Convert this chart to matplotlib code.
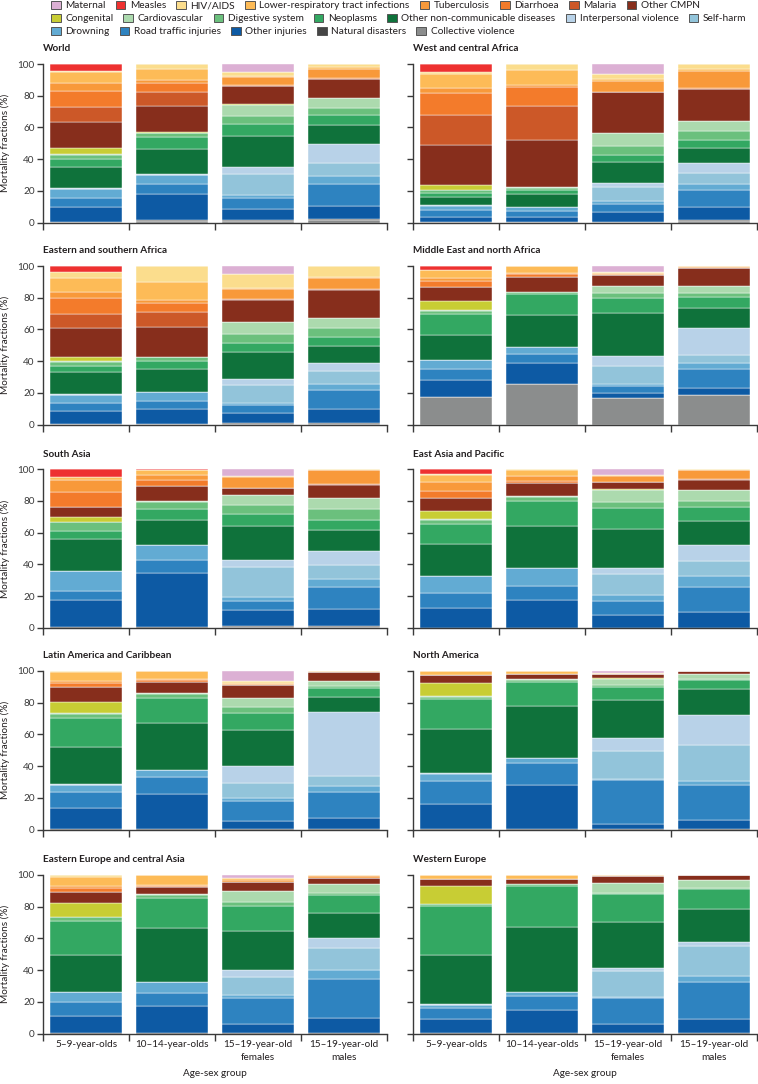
import matplotlib
matplotlib.use('Agg')
import matplotlib.pyplot as plt
import numpy as np
from matplotlib.patches import Patch

plt.rcParams['font.family'] = ['Lato', 'DejaVu Sans']
plt.rcParams['text.color'] = '#231f20'
plt.rcParams['axes.labelcolor'] = '#231f20'
plt.rcParams['xtick.color'] = '#3a3a3a'
plt.rcParams['ytick.color'] = '#3a3a3a'
plt.rcParams['xtick.labelcolor'] = '#231f20'
plt.rcParams['ytick.labelcolor'] = '#3a3a3a'

# Causes in legend order (top of stack first)
causes = ['Maternal', 'Measles', 'HIV/AIDS', 'Lower-respiratory tract infections',
          'Tuberculosis', 'Diarrhoea', 'Malaria', 'Other CMPN',
          'Congenital', 'Cardiovascular', 'Digestive system', 'Neoplasms',
          'Other non-communicable diseases', 'Interpersonal violence', 'Self-harm',
          'Drowning', 'Road traffic injuries', 'Other injuries', 'Natural disasters',
          'Collective violence']
colors = ['#dcb0d4', '#ee3130', '#fbdd8d', '#fdbb57', '#f8993a', '#f37b2b', '#cc5828',
          '#872e1c', '#c8cd34', '#acdaae', '#6bc07d', '#33a862', '#0f723b', '#b8d2e8',
          '#92c4da', '#62abd3', '#2e83c0', '#0d5aa4', '#454545', '#8b8d8d']

groups = ['5–9-year-olds', '10–14-year-olds', '15–19-year-old\nfemales', '15–19-year-old\nmales']

regions = ['World', 'West and central Africa', 'Eastern and southern Africa',
           'Middle East and north Africa', 'South Asia', 'East Asia and Pacific',
           'Latin America and Caribbean', 'North America',
           'Eastern Europe and central Asia', 'Western Europe']

# Each region: 4 age-sex groups x 20 causes (legend order), mortality fractions (%)
world = [
    [0, 4.2, 1.1, 6.9, 4.6, 10.2, 9.4, 16.9, 3.5, 0.6, 2.4, 5.5, 13.2, 0.3, 0.2, 6.0, 5.3, 9.5, 0.2, 0.2],
    [0, 0, 3.2, 6.9, 1.7, 5.7, 9.0, 16.9, 0.3, 0.3, 2.6, 7.4, 15.8, 0.3, 0.3, 5.9, 6.3, 16.4, 0.5, 1.0],
    [4.8, 0, 2.6, 0.8, 5.1, 0.3, 0.3, 11.6, 0.2, 7.3, 5.1, 7.6, 19.3, 4.7, 13.2, 2.1, 6.8, 7.1, 0.4, 0.9],
    [0, 0, 2.1, 1.0, 6.0, 0.2, 0.2, 11.8, 0.2, 6.1, 4.6, 6.1, 12.2, 12.4, 8.0, 5.1, 13.5, 8.8, 0.5, 1.4],
]
west_central_africa = [
    [0, 5.3, 1.0, 9.1, 3.1, 13.7, 19.2, 25.4, 2.8, 0.3, 1.8, 2.3, 5.3, 0.1, 0.1, 2.9, 4.4, 3.0, 0.2, 0.2],
    [0, 0, 3.8, 9.5, 1.4, 11.6, 22.1, 29.5, 0.2, 0.2, 1.3, 2.7, 8.0, 0.1, 0.1, 2.7, 3.6, 3.2, 0.2, 0.2],
    [6.5, 0, 3.0, 1.0, 7.0, 0.2, 0.3, 25.5, 0.2, 8.2, 6.1, 4.2, 13.3, 2.5, 9.0, 1.5, 5.1, 6.5, 0.2, 0.2],
    [0, 0, 3.2, 1.0, 11.2, 0.2, 0.2, 20.4, 0.1, 6.3, 5.5, 4.8, 9.9, 6.1, 7.2, 3.8, 10.5, 8.4, 0.3, 1.2],
]
eastern_southern_africa = [
    [0, 4.0, 3.7, 8.6, 4.0, 10.0, 9.2, 17.8, 3.0, 0.3, 2.8, 3.5, 14.3, 0.1, 0.1, 5.2, 5.0, 8.4, 0.1, 0.1],
    [0, 0, 10.3, 11.0, 2.1, 5.9, 9.4, 18.8, 0.2, 0.2, 2.3, 5.3, 14.0, 0.1, 0.1, 6.1, 4.6, 9.8, 0.1, 0.1],
    [5.0, 0, 9.0, 0.5, 6.4, 0.2, 0.2, 14.1, 0.1, 7.3, 6.0, 5.5, 17.3, 3.6, 11.1, 1.5, 4.8, 6.7, 0.3, 0.5],
    [0, 0, 6.9, 0.5, 7.2, 0.2, 0.2, 17.8, 0.1, 6.3, 5.7, 5.4, 10.9, 5.4, 7.8, 4.2, 11.9, 8.8, 0.3, 0.5],
]
middle_east_north_africa = [
    [0, 2.5, 0.3, 4.9, 1.5, 3.8, 0.1, 8.8, 6.2, 0.5, 1.6, 13.4, 15.9, 0.1, 0.1, 5.2, 7.4, 10.6, 0.1, 17.3],
    [0, 0, 0.3, 4.3, 0.7, 1.4, 0.1, 9.4, 0.2, 0.3, 1.2, 13.2, 20.2, 0.1, 0.1, 4.2, 5.5, 13.4, 0.1, 25.8],
    [4.0, 0, 0.2, 0.6, 1.0, 0.1, 0.1, 6.5, 0.1, 4.6, 3.2, 9.6, 26.8, 6.5, 11.5, 1.0, 5.0, 3.0, 0.1, 16.6],
    [0, 0, 0.2, 0.3, 0.7, 0.1, 0.1, 11.2, 0.1, 4.6, 2.3, 6.7, 13.0, 17.0, 5.2, 3.5, 12.0, 4.4, 0.1, 18.9],
]
south_asia = [
    [0, 4.6, 0.2, 1.9, 7.8, 9.1, 0.3, 6.6, 2.8, 0.3, 5.3, 5.3, 20.2, 0.1, 0.1, 12.4, 5.5, 17.6, 0.1, 0.1],
    [0, 0.3, 0.2, 3.0, 3.3, 3.6, 0.3, 9.4, 0.2, 0.3, 4.5, 6.8, 16.0, 0.1, 0.1, 9.4, 8.0, 34.8, 0.1, 0.1],
    [4.2, 0, 0.2, 0.5, 6.7, 0.2, 0.2, 4.0, 0.1, 6.3, 6.1, 7.6, 21.5, 4.4, 18.7, 2.5, 5.9, 10.1, 0.4, 0.7],
    [0, 0, 0.2, 0.5, 8.6, 0.2, 0.2, 8.2, 0.1, 6.9, 7.4, 5.9, 13.7, 8.8, 8.9, 5.0, 13.9, 10.7, 0.4, 0.7],
]
east_asia_pacific = [
    [0, 3.2, 0.2, 4.4, 5.7, 4.4, 0.2, 8.0, 5.5, 0.3, 2.6, 12.7, 20.2, 0.1, 0.1, 10.9, 8.9, 12.7, 0.1, 0.0],
    [0, 0.1, 0.2, 3.8, 3.2, 1.6, 0.1, 8.0, 0.2, 0.3, 2.9, 15.8, 26.5, 0.1, 0.1, 11.2, 8.8, 17.6, 0.1, 0.0],
    [3.6, 0, 0.2, 0.4, 3.8, 0.1, 0.1, 4.5, 0.1, 8.2, 3.2, 13.3, 24.8, 4.0, 13.5, 3.8, 9.0, 7.7, 0.1, 0.0],
    [0, 0, 0.2, 0.4, 5.7, 0.1, 0.1, 6.3, 0.1, 7.2, 4.0, 8.8, 15.0, 10.3, 9.3, 6.9, 15.8, 10.0, 0.1, 0.0],
]
latin_america_caribbean = [
    [0, 0.1, 0.5, 5.8, 1.2, 2.5, 0.1, 9.2, 7.1, 0.4, 2.7, 18.2, 23.8, 0.3, 0.3, 4.2, 10.2, 13.5, 0.1, 0.0],
    [0, 0, 0.3, 4.7, 0.7, 1.4, 0.1, 6.5, 0.3, 0.4, 2.7, 15.7, 29.8, 0.2, 0.2, 4.5, 10.7, 22.2, 0.1, 0.0],
    [6.3, 0, 1.0, 0.6, 0.9, 0.1, 0.1, 7.9, 0.1, 5.9, 3.5, 10.9, 22.7, 10.9, 9.6, 1.4, 12.6, 5.5, 0.1, 0.0],
    [0, 0, 0.1, 0.3, 0.4, 0.1, 0.0, 5.3, 0.1, 3.3, 1.4, 5.6, 9.6, 40.3, 6.3, 3.5, 16.5, 7.2, 0.1, 0.0],
]
north_america = [
    [0, 0, 0.2, 2.3, 0.1, 0.1, 0, 4.6, 8.4, 0.5, 1.2, 19.5, 27.5, 0.2, 0.2, 5.0, 14.3, 16.0, 0.1, 0],
    [0, 0, 0.2, 1.5, 0.1, 0.1, 0, 3.1, 0.2, 0.3, 1.2, 15.7, 32.9, 0.1, 0.1, 3.2, 13.8, 28.0, 0.1, 0],
    [1.5, 0, 0.1, 0.2, 0.1, 0.1, 0, 2.7, 0.1, 4.2, 1.2, 8.4, 24.1, 7.8, 18.2, 0.6, 27.4, 3.6, 0.1, 0],
    [0, 0, 0.1, 0.1, 0.1, 0, 0, 1.6, 0.1, 2.9, 0.8, 5.5, 16.6, 19.0, 22.7, 2.7, 22.4, 5.6, 0.1, 0],
]
eastern_europe_central_asia = [
    [0, 0.2, 1.0, 5.8, 1.5, 2.1, 0, 7.0, 8.8, 0.4, 2.4, 21.4, 23.2, 0.2, 0.2, 5.9, 8.8, 11.1, 0.1, 0],
    [0, 0, 0.3, 6.0, 0.5, 0.5, 0, 4.8, 0.2, 0.3, 2.2, 19.0, 33.7, 0.2, 0.2, 6.5, 8.6, 17.2, 0.1, 0],
    [1.7, 0, 0.3, 1.0, 1.2, 0.1, 0, 5.9, 0.1, 6.7, 2.6, 16.0, 24.2, 4.6, 11.6, 1.7, 16.2, 6.2, 0.1, 0],
    [0, 0, 0.2, 0.6, 0.9, 0, 0, 4.0, 0.1, 5.5, 1.4, 11.2, 15.8, 6.3, 13.7, 6.1, 24.4, 9.3, 0.6, 0],
]
western_europe = [
    [0, 0, 0.1, 2.6, 0, 0.1, 0, 4.0, 11.2, 0.5, 1.0, 31.1, 31.0, 0.2, 0.2, 2.1, 6.9, 9.0, 0.1, 0],
    [0, 0, 0.1, 2.4, 0, 0.1, 0, 2.8, 0.2, 0.3, 1.0, 25.9, 41.1, 0.1, 0.1, 2.3, 8.9, 14.8, 0.1, 0],
    [0.2, 0, 0.1, 0.2, 0.1, 0, 0, 4.4, 0.1, 6.1, 1.0, 17.6, 28.8, 2.1, 16.2, 0.8, 16.3, 6.2, 0.1, 0],
    [0, 0, 0.1, 0.1, 0.1, 0, 0, 3.0, 0.1, 4.6, 0.8, 12.5, 21.0, 2.5, 19.2, 3.8, 23.3, 9.0, 0.1, 0],
]

region_data = [world, west_central_africa, eastern_southern_africa, middle_east_north_africa,
               south_asia, east_asia_pacific, latin_america_caribbean, north_america,
               eastern_europe_central_asia, western_europe]

W, H = 758, 1084
fig = plt.figure(figsize=(W / 100, H / 100), dpi=100)

col_left = [43, 413]
axw = 344
row_top = [64, 266, 469.3, 671, 875]
axh = 158.5
FS = 7.2
spine_col = '#3a3a3a'

for i, (name, data) in enumerate(zip(regions, region_data)):
    r, c = divmod(i, 2)
    ax = fig.add_axes([col_left[c] / W, 1 - (row_top[r] + axh) / H, axw / W, axh / H])
    arr = np.array(data, dtype=float)
    arr = arr / arr.sum(axis=1, keepdims=True) * 100
    x = np.arange(len(groups))
    bottom = np.zeros(len(groups))
    for k in range(len(causes) - 1, -1, -1):
        ax.bar(x, arr[:, k], bottom=bottom, width=0.84, color=colors[k],
               edgecolor='white', linewidth=0.3)
        bottom += arr[:, k]
    ax.set_xlim(-0.5, 3.5)
    ax.set_ylim(0, 100)
    for s in ['top', 'right']:
        ax.spines[s].set_visible(False)
    for s in ['left', 'bottom']:
        ax.spines[s].set_color(spine_col)
        ax.spines[s].set_linewidth(1.0)
    ax.set_xticks([-0.5, 0.5, 1.5, 2.5, 3.5])
    ax.set_xticklabels([])
    ax.tick_params(axis='x', which='major', length=5, width=1.0, direction='out')
    ax.set_xticks(x, minor=True)
    ax.tick_params(axis='x', which='minor', length=0, pad=5, labelsize=FS)
    if r == 4:
        ax.set_xticklabels(groups, minor=True, linespacing=1.45)
        ax.set_xlabel('Age-sex group', fontsize=FS, labelpad=5)
    ax.set_yticks(np.arange(0, 101, 20))
    ax.tick_params(axis='y', length=4, width=1.0, labelsize=FS, pad=2)
    if c == 0:
        ax.set_ylabel('Mortality fractions (%)', fontsize=FS)
        ax.yaxis.set_label_coords(-0.096, 0.5)
    else:
        ax.set_yticklabels([])
    ax.text(0, 1.095, name, transform=ax.transAxes, fontsize=FS, fontweight='bold',
            ha='left', va='center')

# Legend: three rows as in the reference
LFS = 7.3
handles = [Patch(facecolor=colors[k], edgecolor='#555555', linewidth=0.7) for k in range(len(causes))]
rows = [(0, 8, 5.5), (8, 15, 18.5), (15, 20, 31.5)]
for a, b, yc in rows:
    fig.legend(handles[a:b], causes[a:b], loc='center left',
               bbox_to_anchor=(51 / W, 1 - yc / H), ncol=b - a, frameon=False,
               fontsize=LFS, handlelength=0.95, handleheight=0.85, handletextpad=0.45,
               columnspacing=1.0, borderpad=0, borderaxespad=0)

fig.savefig('out.png', dpi=100)
